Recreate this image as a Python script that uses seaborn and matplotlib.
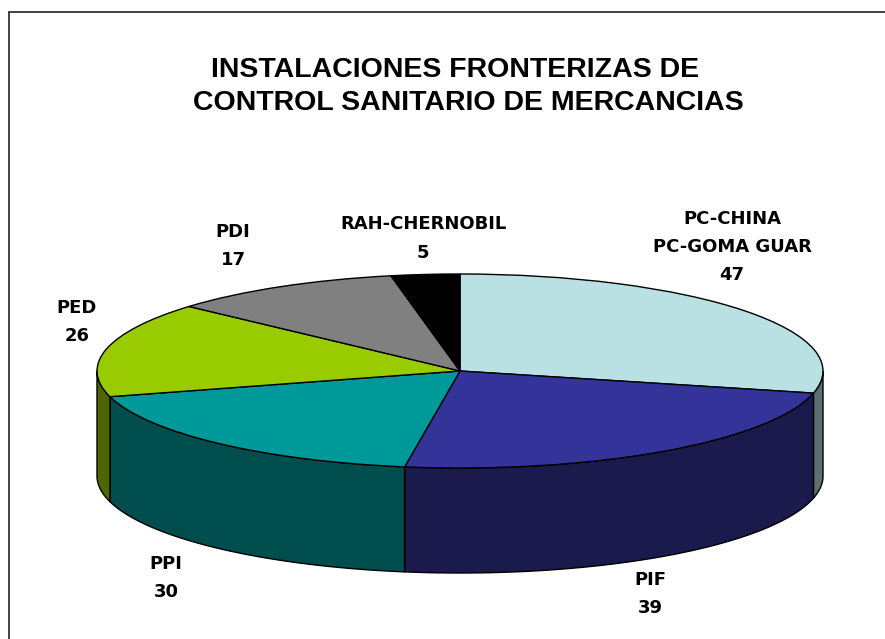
"""
3D-looking pie of the border inspection facilities.
"""

import matplotlib.pyplot as plt
from matplotlib.patches import Polygon
import numpy as np
import seaborn as sns

TITLE_LINES = ["INSTALACIONES FRONTERIZAS DE", "CONTROL SANITARIO DE MERCANCIAS"]

LABELS = ["PC-CHINA\nPC-GOMA GUAR", "PIF", "PPI", "PED", "PDI", "RAH-CHERNOBIL"]
VALUES = [47, 39, 30, 26, 17, 5]

TOP_COLORS = ["#b9e1e4", "#333399", "#009999", "#99cc00", "#808080", "#000000"]
SIDE_COLORS = ["#5c7072", "#1a1a4d", "#004d4d", "#4d6600", "#404040", "#000000"]

W, H = 885, 639
CX, CY = 460, 371
RX, RY = 363, 97
DEPTH = 105 / RY

LABEL_POS = [(732, 247), (650, 594), (166, 578), (77, 322), (233, 246), (423, 238.5)]
TITLE_POS = [(455, 70), (468, 103)]

sns.set_theme(style="white")
plt.rcParams['font.family'] = ['Liberation Sans', 'DejaVu Sans']

fig = plt.figure(figsize=(W / 100, H / 100), dpi=100)
ax = fig.add_axes([0, 0, 1, 1])

# Top face, the unit circle gets squashed by the axis limits below
ax.pie(
    VALUES,
    colors=sns.color_palette(TOP_COLORS),
    startangle=90,
    counterclock=False,
    wedgeprops={"edgecolor": "black", "linewidth": 1},
)
ax.set_aspect("auto")
ax.set_xlim(-CX / RX, (W - CX) / RX)
ax.set_ylim((CY - H) / RY, CY / RY)

# Side wall of each slice, only the part on the front half is visible
ends = 90 - np.cumsum(VALUES) / np.sum(VALUES) * 360
starts = np.concatenate([[90], ends[:-1]])
for start, end, color in zip(starts, ends, SIDE_COLORS):
    lo = max(end, -180)
    hi = min(start, 0)
    if lo >= hi:
        continue
    t = np.radians(np.linspace(lo, hi, 200))
    xs = np.cos(t)
    ys = np.sin(t)
    pts = np.column_stack([np.r_[xs, xs[::-1]], np.r_[ys, ys[::-1] - DEPTH]])
    ax.add_patch(Polygon(pts, closed=True, facecolor=color, edgecolor="black", linewidth=1, zorder=0.5))

# Slice labels are placed in pixel coordinates of the figure
for label, value, (px, py) in zip(LABELS, VALUES, LABEL_POS):
    fig.text(px / W, 1 - py / H, f"{label}\n{value}", ha="center", va="center",
             fontsize=13, fontweight="bold", color="black", linespacing=1.72,
             family=['DejaVu Sans'])

# The first title line sits a bit left of the second one
for line, (px, py) in zip(TITLE_LINES, TITLE_POS):
    fig.text(px / W, 1 - py / H, line, ha="center", va="center",
             fontsize=20.5, fontweight="bold", color="black")

# Chart border, the right and bottom sides are cut off by the image
fig.add_artist(plt.Line2D([8.5 / W, 8.5 / W], [0, 1 - 12 / H], color="#222222", linewidth=1.2))
fig.add_artist(plt.Line2D([8.5 / W, 1], [1 - 12 / H, 1 - 12 / H], color="#222222", linewidth=1.2))

plt.savefig("out.png", dpi=100)
